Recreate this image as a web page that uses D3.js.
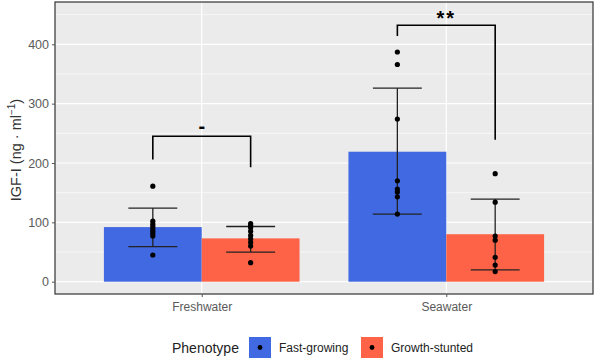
<!DOCTYPE html>
<head>
<meta charset="utf-8">
<title>IGF-I</title>
<script src="https://cdn.jsdelivr.net/npm/d3@7"></script>
<style>
body { margin: 0; background: #fff; }
text { font-family: "Liberation Sans", Arial, sans-serif; }
</style>
</head>
<body>
<script>
// categories
var sites = ["Freshwater", "Seawater"];
var phenotypes = ["Fast-growing", "Growth-stunted"];
var colors = ["#4169E1", "#FF6347"];

// bar heights (means) and error bars: [site][phenotype]
var means = [[92, 73], [219, 80]];
var errLow = [[59, 50], [114, 20]];
var errHigh = [[124, 93], [326, 139]];

// individual fish
var freshFast = [161, 102, 97, 93, 89, 85, 81, 77, 45];
var freshStunted = [98, 95, 91, 85, 78, 72, 66, 60, 32];
var seaFast = [387, 366, 274, 170, 156, 151, 143, 114];
var seaStunted = [182, 134, 77, 70, 41, 28, 17];
var points = [[freshFast, freshStunted], [seaFast, seaStunted]];

// significance brackets
var bracketTop = [245, 432];
var bracketLeft = [206, 414];
var bracketRight = [193, 239];
var bracketLabel = ["-", "**"];

var yTicks = [0, 100, 200, 300, 400];
var yMinor = [50, 150, 250, 350, 450];

var W = 596, H = 361;
var pl = 55, pr = 593, pt = 2, pb = 294;

var svg = d3.select("body").append("svg")
    .attr("width", W)
    .attr("height", H);

var x = d3.scaleLinear().domain([0.4, 2.6]).range([pl, pr]);
var y = d3.scaleLinear().domain([0, 400]).range([281.7, 44.3]);
var unit = x(1) - x(0);
var sub = d3.scaleBand().domain(phenotypes).range([-0.4, 0.4]);

// panel
svg.append("rect")
    .attr("x", pl).attr("y", pt)
    .attr("width", pr - pl).attr("height", pb - pt)
    .style("fill", "#EBEBEB");

svg.selectAll(".minor").data(yMinor).enter().append("line")
    .attr("x1", pl).attr("x2", pr)
    .attr("y1", function(d) { return y(d); })
    .attr("y2", function(d) { return y(d); })
    .style("stroke", "#fff").style("stroke-width", 0.6);

svg.selectAll(".major").data(yTicks).enter().append("line")
    .attr("x1", pl).attr("x2", pr)
    .attr("y1", function(d) { return y(d); })
    .attr("y2", function(d) { return y(d); })
    .style("stroke", "#fff").style("stroke-width", 1.2);

svg.selectAll(".vgrid").data(sites).enter().append("line")
    .attr("x1", function(d, i) { return x(i + 1); })
    .attr("x2", function(d, i) { return x(i + 1); })
    .attr("y1", pt).attr("y2", pb)
    .style("stroke", "#fff").style("stroke-width", 1.2);

// bars, error bars, points
sites.forEach(function(site, i) {
    phenotypes.forEach(function(ph, j) {
        var cx = i + 1 + sub(ph) + sub.bandwidth() / 2;
        svg.append("rect")
            .attr("x", x(i + 1 + sub(ph)))
            .attr("width", sub.bandwidth() * unit)
            .attr("y", y(means[i][j]))
            .attr("height", y(0) - y(means[i][j]))
            .style("fill", colors[j]);

        var eb = svg.append("g").style("stroke", "#222").style("stroke-width", 1.3);
        eb.append("line")
            .attr("x1", x(cx)).attr("x2", x(cx))
            .attr("y1", y(errLow[i][j])).attr("y2", y(errHigh[i][j]));
        [errLow[i][j], errHigh[i][j]].forEach(function(v) {
            eb.append("line")
                .attr("x1", x(cx - 0.1)).attr("x2", x(cx + 0.1))
                .attr("y1", y(v)).attr("y2", y(v));
        });

        svg.selectAll(null).data(points[i][j]).enter().append("circle")
            .attr("cx", x(cx))
            .attr("cy", function(d) { return y(d); })
            .attr("r", 2.6)
            .style("fill", "#000");
    });
});

// brackets
sites.forEach(function(site, i) {
    var xl = x(i + 1 + sub(phenotypes[0]) + sub.bandwidth() / 2);
    var xr = x(i + 1 + sub(phenotypes[1]) + sub.bandwidth() / 2);
    svg.append("path")
        .attr("d", "M" + xl + "," + y(bracketLeft[i]) + "V" + y(bracketTop[i]) +
            "H" + xr + "V" + y(bracketRight[i]))
        .style("fill", "none").style("stroke", "#000").style("stroke-width", 1.6);
    svg.append("text")
        .attr("x", x(i + 1))
        .attr("y", y(bracketTop[i]) - (i == 0 ? 3 : 0))
        .attr("text-anchor", "middle")
        .style("font-size", "20px")
        .style("font-weight", "bold")
        .style("letter-spacing", i == 0 ? "0px" : "2px")
        .text(bracketLabel[i]);
});

// panel border
svg.append("rect")
    .attr("x", pl).attr("y", pt)
    .attr("width", pr - pl).attr("height", pb - pt)
    .style("fill", "none").style("stroke", "#333").style("stroke-width", 1.2);

// axes
var yAxis = svg.append("g")
    .attr("transform", "translate(" + pl + ",0)")
    .call(d3.axisLeft(y).tickValues(yTicks).tickSize(3).tickPadding(3));
yAxis.select(".domain").remove();
yAxis.selectAll("line").style("stroke", "#555");
yAxis.selectAll("text").style("fill", "#5a5a5a").style("font-size", "12.5px")
    .style("font-family", "Liberation Sans, Arial, sans-serif");

var xAxis = svg.append("g")
    .attr("transform", "translate(0," + pb + ")")
    .call(d3.axisBottom(x).tickValues([1, 2])
        .tickFormat(function(d) { return sites[d - 1]; })
        .tickSize(3).tickPadding(5));
xAxis.select(".domain").remove();
xAxis.selectAll("line").style("stroke", "#555");
xAxis.selectAll("text").style("fill", "#5a5a5a").style("font-size", "12px")
    .style("font-family", "Liberation Sans, Arial, sans-serif");

// y title
var yt = svg.append("text")
    .attr("transform", "translate(21," + ((pt + pb) / 2 + 2) + ") rotate(-90)")
    .attr("text-anchor", "middle")
    .style("font-size", "14.5px")
    .style("fill", "#333");
yt.append("tspan").text("IGF-I (ng \u00B7 ml");
yt.append("tspan").attr("dy", -6).style("font-size", "10px").text("\u22121");
yt.append("tspan").attr("dy", 6).text(")");

// legend
var lg = svg.append("g");
lg.append("text")
    .attr("x", 172).attr("y", 353)
    .style("font-size", "14px").style("fill", "#222")
    .text("Phenotype");
var keyX = [249, 361];
phenotypes.forEach(function(ph, j) {
    lg.append("rect")
        .attr("x", keyX[j]).attr("y", 337)
        .attr("width", 22).attr("height", 21)
        .style("fill", colors[j]);
    lg.append("circle")
        .attr("cx", keyX[j] + 11).attr("cy", 347.5)
        .attr("r", 2.4).style("fill", "#000");
    lg.append("text")
        .attr("x", keyX[j] + 30).attr("y", 352)
        .style("font-size", "12px").style("fill", "#222")
        .text(ph);
});
</script>
</body>
